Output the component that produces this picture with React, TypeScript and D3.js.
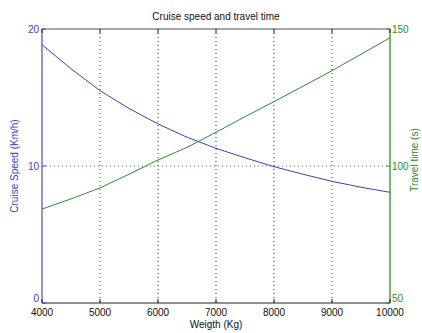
import React from "react";
import * as d3 from "d3";

const weights = [4000, 4500, 5000, 5500, 6000, 6500, 7000, 7500, 8000, 8500, 9000, 9500, 10000];
const speed = [18.85, 17.1, 15.5, 14.2, 13.07, 12.1, 11.29, 10.6, 9.95, 9.4, 8.88, 8.45, 8.08];
const travelTime = [84.3, 88.0, 92.0, 97.0, 102.2, 106.8, 112.3, 118.0, 123.5, 129.1, 134.8, 140.8, 146.8];
const xTicks = [4000, 5000, 6000, 7000, 8000, 9000, 10000];
const leftTicks = [0, 10, 20];
const rightTicks = [50, 100, 150];

const W = 422, H = 333;
const m = { l: 42, r: 390, t: 29, b: 303 };
const BLUE = "#3c3cc8";
const GREEN = "#2e8b2e";
const FONT = "'Liberation Sans', Arial, sans-serif";

export default function App() {
  const x = d3.scaleLinear().domain([4000, 10000]).range([m.l, m.r]);
  const yL = d3.scaleLinear().domain([0, 20]).range([m.b, m.t]);
  const yR = d3.scaleLinear().domain([50, 150]).range([m.b, m.t]);
  const lineL = d3.line<number>().x((_, i) => x(weights[i])).y((d) => yL(d));
  const lineR = d3.line<number>().x((_, i) => x(weights[i])).y((d) => yR(d));
  return (
    <svg width={W} height={H} style={{ position: "absolute", left: 0, top: 0, background: "#fff" }} fontFamily={FONT}>
      <rect x={0} y={0} width={W} height={H} fill="#fff" />
      {/* grid */}
      {xTicks.slice(1, -1).map((t) => (
        <line key={"gx" + t} x1={x(t)} x2={x(t)} y1={m.t} y2={m.b} stroke="#333" strokeWidth={1} strokeDasharray="1,3" />
      ))}
      <line x1={m.l} x2={m.r} y1={yL(10)} y2={yL(10)} stroke="#4a7a4a" strokeWidth={1} strokeDasharray="1,3" />
      {/* box */}
      <line x1={m.l} x2={m.r} y1={m.t} y2={m.t} stroke="#555" strokeWidth={1.2} />
      <line x1={m.l} x2={m.r} y1={m.b} y2={m.b} stroke="#222" strokeWidth={1.2} />
      <line x1={m.l} x2={m.l} y1={m.t} y2={m.b} stroke="#7070c8" strokeWidth={1.5} />
      <line x1={m.r} x2={m.r} y1={m.t} y2={m.b} stroke={GREEN} strokeWidth={1.3} />
      {/* x ticks */}
      {xTicks.map((t) => (
        <g key={"xt" + t}>
          <line x1={x(t)} x2={x(t)} y1={m.b} y2={m.b - 4} stroke="#222" />
          <line x1={x(t)} x2={x(t)} y1={m.t} y2={m.t + 4} stroke="#222" />
          <text x={x(t)} y={m.b + 13} fontSize={10} textAnchor="middle" fill="#111">{t}</text>
        </g>
      ))}
      {leftTicks.map((t) => (
        <g key={"lt" + t}>
          <line x1={m.l} x2={m.l + 4} y1={yL(t)} y2={yL(t)} stroke={BLUE} />
          <text x={m.l - 3} y={yL(t) + (t === 0 ? -1 : 4)} fontSize={10} textAnchor="end" fill={BLUE}>{t}</text>
        </g>
      ))}
      {rightTicks.map((t) => (
        <g key={"rt" + t}>
          <line x1={m.r} x2={m.r - 4} y1={yR(t)} y2={yR(t)} stroke={GREEN} />
          <text x={m.r + 2} y={yR(t) + (t === 50 ? -1 : 4)} fontSize={10} textAnchor="start" fill={GREEN}>{t}</text>
        </g>
      ))}
      {/* series */}
      <path d={lineL(speed) || ""} fill="none" stroke={BLUE} strokeWidth={1} />
      <path d={lineR(travelTime) || ""} fill="none" stroke={GREEN} strokeWidth={1} />
      {/* labels */}
      <text x={(m.l + m.r) / 2} y={20} fontSize={10} textAnchor="middle" fill="#111">Cruise speed and travel time</text>
      <text x={(m.l + m.r) / 2} y={328} fontSize={10} textAnchor="middle" fill="#111">Weigth (Kg)</text>
      <text transform={`translate(18,${(m.t + m.b) / 2}) rotate(-90)`} fontSize={10} textAnchor="middle" fill={BLUE}>Cruise Speed (Km/h)</text>
      <text transform={`translate(418,${(m.t + m.b) / 2 - 6}) rotate(-90)`} fontSize={10} textAnchor="middle" fill={GREEN}>Travel time (s)</text>
    </svg>
  );
}
